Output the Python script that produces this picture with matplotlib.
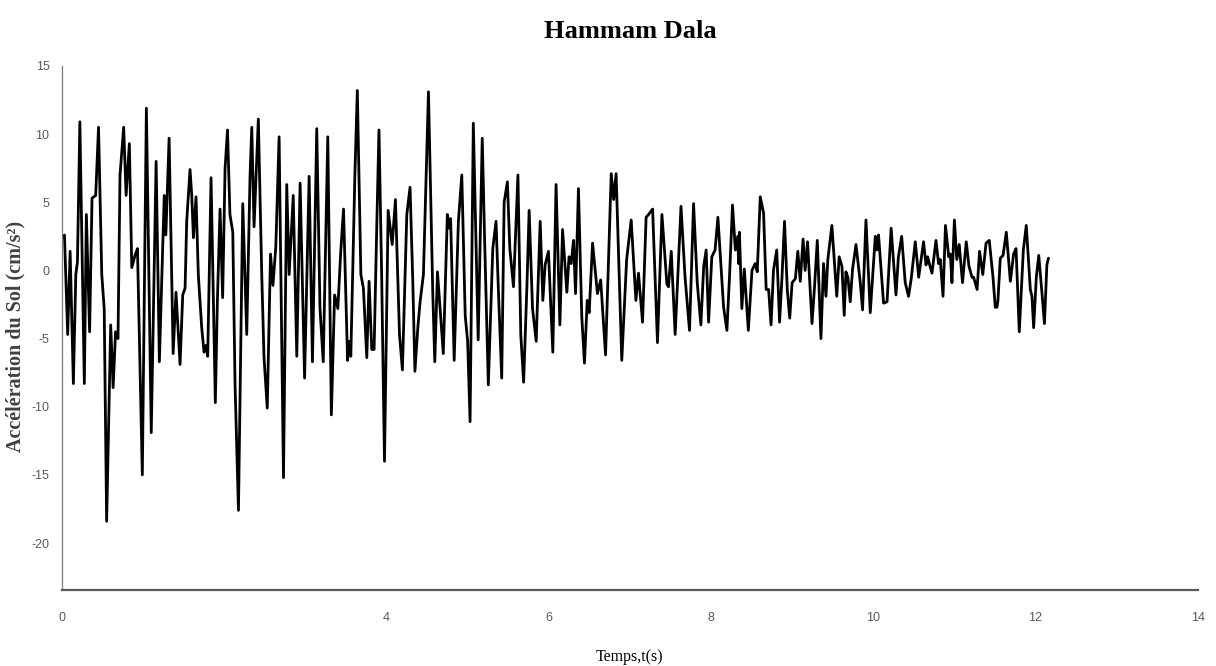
import matplotlib
matplotlib.use("Agg")
import matplotlib.pyplot as plt

# Ground acceleration record, Hammam Dala station
time_s = [
    0.00, 0.03, 0.07, 0.10, 0.14, 0.17, 0.19, 0.22, 0.275, 0.30, 0.34, 0.37, 0.415, 0.45, 0.49, 0.52,
    0.55, 0.60, 0.63, 0.66, 0.69, 0.715, 0.76, 0.79, 0.83, 0.86, 0.90, 0.93, 0.99, 1.04, 1.10, 1.16,
    1.20, 1.26, 1.28, 1.32, 1.37, 1.405, 1.455,
    1.488, 1.517, 1.537, 1.578, 1.599, 1.62, 1.652, 1.68, 1.722, 1.751, 1.776, 1.796, 1.837, 1.89,
    1.915, 1.948, 1.98, 2.01, 2.04, 2.07, 2.105, 2.133, 2.175, 2.228, 2.277, 2.318, 2.339, 2.367,
    2.42, 2.462, 2.49, 2.53, 2.57, 2.60, 2.635, 2.676, 2.73, 2.77, 2.80, 2.85, 2.894, 2.935, 2.99,
    3.046, 3.087, 3.14, 3.18, 3.22, 3.276, 3.32, 3.36, 3.40, 3.436, 3.47, 3.52, 3.54, 3.56, 3.61,
    3.64, 3.684, 3.715, 3.757, 3.785, 3.818, 3.847, 3.88, 3.907, 3.94, 3.975, 4.02, 4.07, 4.11,
    4.16, 4.196, 4.25, 4.29, 4.324, 4.35, 4.386, 4.414, 4.455, 4.517,
    4.57, 4.595, 4.628, 4.66, 4.70, 4.75, 4.776, 4.79, 4.834, 4.886, 4.928, 4.97, 5.00, 5.03, 5.07,
    5.13, 5.18, 5.21, 5.255, 5.31, 5.35, 5.38, 5.42, 5.45, 5.49, 5.52, 5.565, 5.62, 5.655, 5.69,
    5.73, 5.758, 5.80, 5.845, 5.894, 5.927, 5.955, 5.996, 6.05, 6.09,
    6.137, 6.17, 6.223, 6.25, 6.276, 6.305, 6.33, 6.366, 6.407, 6.44, 6.474, 6.498, 6.54, 6.60,
    6.64, 6.70, 6.77, 6.80, 6.83, 6.90, 6.96, 7.016, 7.074, 7.106, 7.156, 7.20, 7.23, 7.28, 7.34,
    7.395, 7.456, 7.476, 7.51, 7.558, 7.63,
    7.68, 7.735, 7.785, 7.83, 7.875, 7.91, 7.94, 7.97, 8.01, 8.05, 8.085, 8.11, 8.155, 8.196, 8.23,
    8.265, 8.30, 8.33, 8.34, 8.35, 8.38, 8.41, 8.46, 8.505, 8.545, 8.57, 8.607, 8.648, 8.68, 8.71,
    8.74, 8.77, 8.81, 8.845, 8.875, 8.906, 8.94, 8.97, 9.00, 9.04, 9.07, 9.10, 9.135, 9.16, 9.19,
    9.245, 9.276, 9.31, 9.355, 9.387, 9.417, 9.44, 9.49, 9.55, 9.58, 9.614, 9.642, 9.663, 9.687,
    9.716, 9.745, 9.787, 9.84, 9.868, 9.91, 9.963, 10.025, 10.045, 10.065, 10.127, 10.17, 10.22,
    10.28, 10.31, 10.35, 10.394, 10.435, 10.468, 10.518, 10.56, 10.62, 10.65, 10.67, 10.70,
    10.724, 10.744, 10.773, 10.805, 10.826, 10.86, 10.89, 10.93, 10.95, 10.97, 11.00, 11.03, 11.06,
    11.10, 11.146, 11.18, 11.217, 11.237, 11.28, 11.31, 11.35, 11.39, 11.43, 11.476, 11.504,
    11.525, 11.537, 11.566, 11.60, 11.64, 11.69, 11.73, 11.76, 11.78, 11.80, 11.85, 11.886, 11.936,
    11.956, 11.977, 12.01, 12.04, 12.08, 12.11, 12.14, 12.16,
]

accel_cm_s2 = [
    2.4, 2.6, -4.7, 1.4, -8.3, -0.3, 0.6, 10.9, -8.3, 4.1, -4.5, 5.3, 5.5, 10.5, -0.3, -2.8,
    -18.4, -4.0, -8.6, -4.5, -5.0, 7.0, 10.5, 5.5, 9.3, 0.2, 1.1, 1.6, -15.0, 11.9, -11.9, 8.0,
    -6.7, 5.5, 2.6, 9.7, -6.1, -1.6, -6.9,
    -1.8, -1.3, 3.6, 7.4, 5.5, 2.4, 5.4, -0.3, -4.2, -6.0, -5.5, -6.3, 6.8, -9.7,
    -2.3, 4.5, -2.0, 7.5, 10.3, 4.1, 2.8, -8.4, -17.6, 4.9, -4.7, 7.0, 10.5, 3.2,
    11.1, -0.3, -6.4, -10.1, 1.2, -1.1, 1.7, 9.8, -15.2, 6.3, -0.3, 5.5, -6.3, 6.4, -7.9,
    6.9, -6.7, 10.4, -2.8, -6.7, 9.8, -10.6, -1.8, -2.8, 1.4, 4.5, -6.6, -5.2, -6.3, 7.0,
    13.2, -0.3, -1.3, -6.4, -0.8, -5.8, -5.8, 3.3, 10.3, -0.3, -14.0, 4.4, 1.9, 5.2,
    -4.7, -7.3, 4.1, 6.1, -0.8, -7.4, -4.2, -2.3, -0.3, 13.1,
    -1.6, -6.7, -0.1, -2.8, -6.1, 4.1, 3.1, 3.8, -6.6, 3.6, 7.0, -3.3, -5.2, -11.1, 10.8,
    -5.1, 9.7, 2.1, -8.4, 1.6, 3.6, -1.6, -7.9, 5.0, 6.5, 1.6, -1.2, 7.0, -4.7, -8.2,
    -1.3, 4.4, -2.8, -5.2, 3.6, -2.2, 0.4, 1.4, -6.0, 6.3,
    -4.0, 3.0, -1.6, 1.0, 0.5, 2.2, -1.7, 6.0, -3.4, -6.8, -2.2, -3.1, 2.0, -1.7,
    -0.7, -6.2, 7.1, 5.2, 7.1, -6.6, 0.8, 3.7, -2.2, -0.2, -3.8, 3.9, 4.1, 4.5, -5.3,
    4.1, -1.0, -1.2, 1.4, -4.7, 4.7,
    -0.5, -4.4, 4.9, -0.9, -4.0, 0.3, 1.5, -3.8, 1.0, 1.5, 3.9, 1.5, -2.7, -4.4, -0.2,
    4.8, 1.5, 2.5, 0.5, 2.8, -2.8, 0.1, -4.4, 0.0, 0.5, -0.1, 5.4, 4.2, -1.4, -1.4,
    -4.0, 0.0, 1.5, -3.8, -0.5, 3.6, -1.4, -3.5, -0.9, -0.6, 1.4, -0.8, 2.3, 0.0, 2.1,
    -3.9, -1.2, 2.2, -5.0, 0.5, -1.9, 0.8, 3.3, -1.9, 1.0, 0.3, -3.3, -0.1, -0.5,
    -2.3, 0.1, 1.9, -0.9, -2.9, 3.7, -3.1, 2.5, 1.5, 2.6, -2.4, -2.3, 3.1,
    -1.8, 1.0, 2.5, -0.9, -1.9, -0.6, 2.1, -0.5, 2.1, 0.4, 1.0, 0.3,
    -0.2, 0.8, 2.2, 0.5, 0.8, -1.9, 3.3, 1.0, 1.2, -0.9, 3.7, 0.8, 1.9,
    -0.9, 2.1, 0.3, -0.5, -0.5, -1.4, 1.4, -0.3, 2.0, 2.2, -0.5, -2.7,
    -2.7, -2.2, 0.9, 1.1, 2.8, -0.8, 1.2, 1.6, -1.4, -4.5, 1.5, 3.3, -1.4,
    -1.9, -4.2, -0.5, 1.1, -1.7, -3.9, 0.4, 0.9,
]

x_ticks = [0, 4, 6, 8, 10, 12, 14]
y_ticks = [15, 10, 5, 0, -5, -10, -15, -20]

title = "Hammam Dala"
x_label = "Temps,t(s)"
y_label = "Accélération du Sol (cm/s²)"

fig = plt.figure(figsize=(12.16, 6.66), dpi=100)
ax = fig.add_axes([0.051, 0.114, 0.934, 0.787])

ax.plot(time_s, accel_cm_s2, color="black", linewidth=2.0,
        solid_joinstyle="round", solid_capstyle="round")

ax.set_xlim(0, 14)
ax.set_ylim(-23.45, 15)
ax.set_xticks(x_ticks)
ax.set_yticks(y_ticks)

tick_font = dict(family=["Liberation Sans Narrow", "Liberation Sans", "DejaVu Sans"],
                 size=9, color="#595959")
ax.set_xticklabels([str(v) for v in x_ticks], **tick_font)
ax.set_yticklabels([str(v) for v in y_ticks], **tick_font)
ax.tick_params(axis="both", length=0)
ax.tick_params(axis="x", pad=16)
ax.tick_params(axis="y", pad=9)

for side in ("top", "right"):
    ax.spines[side].set_visible(False)
ax.spines["left"].set_color("#7f7f7f")
ax.spines["left"].set_linewidth(0.9)
ax.spines["bottom"].set_color("#595959")
ax.spines["bottom"].set_linewidth(1.6)

fig.text(0.518, 0.952, title, ha="center", va="center",
         family="Liberation Serif", weight="bold", size=19)
fig.text(0.518, 0.013, x_label, ha="center", va="center",
         family="Liberation Serif", size=11.5)
fig.text(0.013, 0.495, y_label, ha="center", va="center", rotation=90,
         family="Liberation Serif", weight="bold", size=14.5, color="#404040")

fig.savefig("out.png", dpi=100)
